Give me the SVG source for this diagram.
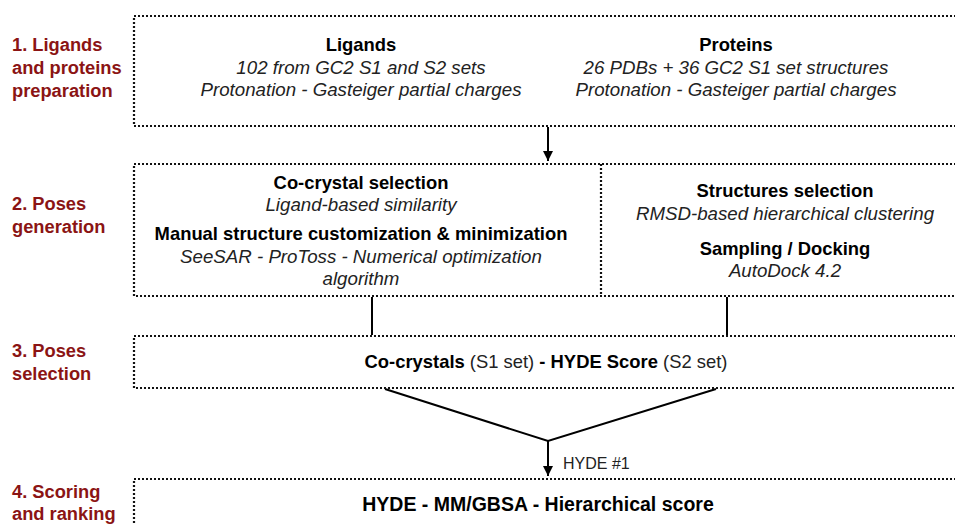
<svg xmlns="http://www.w3.org/2000/svg" width="955" height="525" viewBox="0 0 955 525">
  <defs>
    <marker id="arrow" viewBox="0 0 10 10" refX="10" refY="5" markerWidth="10" markerHeight="10" markerUnits="userSpaceOnUse" orient="auto">
      <path d="M0,0 L10,5 L0,10 Z" fill="#000"/>
    </marker>
    <style>
      .box { fill: none; stroke: #111; stroke-width: 2.2; stroke-dasharray: 2 2; }
      .line { fill: none; stroke: #000; stroke-width: 2; }
      .stage { font-family: "Liberation Sans", Arial, sans-serif; font-weight: bold; font-size: 18.3px; fill: #8b1414; }
      .head { font-family: "Liberation Sans", Arial, sans-serif; font-weight: bold; font-size: 18.4px; fill: #000; text-anchor: middle; }
      .sub { font-family: "Liberation Sans", Arial, sans-serif; font-style: italic; font-size: 18.7px; fill: #222; text-anchor: middle; }
      .plain { font-family: "Liberation Sans", Arial, sans-serif; font-size: 16px; fill: #222; }
    </style>
  </defs>
  <rect width="955" height="525" fill="#fff"/>

  <!-- stage labels -->
  <g id="stage-labels">
    <text class="stage" x="12" y="51">1. Ligands</text>
    <text class="stage" x="12" y="74">and proteins</text>
    <text class="stage" x="12" y="97">preparation</text>
    <text class="stage" x="12" y="210">2. Poses</text>
    <text class="stage" x="12" y="233">generation</text>
    <text class="stage" x="12" y="357">3. Poses</text>
    <text class="stage" x="12" y="380">selection</text>
    <text class="stage" x="12" y="498">4. Scoring</text>
    <text class="stage" x="12" y="520">and ranking</text>
  </g>

  <!-- connectors -->
  <g id="connectors">
    <line class="line" x1="548" y1="127" x2="548" y2="161" marker-end="url(#arrow)"/>
    <line class="line" x1="372" y1="297" x2="372" y2="335"/>
    <line class="line" x1="727" y1="297" x2="727" y2="335"/>
    <polyline class="line" points="385,389 548,441 716,389"/>
    <line class="line" x1="548" y1="441" x2="548" y2="476" marker-end="url(#arrow)"/>
    <text class="plain" x="563" y="469">HYDE #1</text>
  </g>

  <!-- step 1 -->
  <g id="preparation">
    <rect class="box" x="134" y="16" width="830" height="110"/>
    <text class="head" x="361" y="51">Ligands</text>
    <text class="sub" x="361" y="74">102 from GC2 S1 and S2 sets</text>
    <text class="sub" x="361" y="96">Protonation - Gasteiger partial charges</text>
    <text class="head" x="736" y="51">Proteins</text>
    <text class="sub" x="736" y="74">26 PDBs + 36 GC2 S1 set structures</text>
    <text class="sub" x="736" y="96">Protonation - Gasteiger partial charges</text>
  </g>

  <!-- step 2 -->
  <g id="generation">
    <rect class="box" x="134" y="164" width="830" height="132"/>
    <line class="box" x1="601" y1="164" x2="601" y2="296"/>
    <text class="head" x="361" y="189">Co-crystal selection</text>
    <text class="sub" x="361" y="211">Ligand-based similarity</text>
    <text class="head" x="361" y="240">Manual structure customization &amp; minimization</text>
    <text class="sub" x="361" y="263">SeeSAR - ProToss - Numerical optimization</text>
    <text class="sub" x="361" y="285">algorithm</text>
    <text class="head" x="785" y="197">Structures selection</text>
    <text class="sub" x="785" y="220">RMSD-based hierarchical clustering</text>
    <text class="head" x="785" y="255">Sampling / Docking</text>
    <text class="sub" x="785" y="277">AutoDock 4.2</text>
  </g>

  <!-- step 3 -->
  <g id="selection">
    <rect class="box" x="134" y="336" width="830" height="52"/>
    <text x="546" y="368" text-anchor="middle" font-family="Liberation Sans, Arial, sans-serif" font-size="18.4px" fill="#000"><tspan font-weight="bold">Co-crystals</tspan><tspan fill="#222"> (S1 set) </tspan><tspan font-weight="bold">- HYDE Score</tspan><tspan fill="#222"> (S2 set)</tspan></text>
  </g>

  <!-- step 4 -->
  <g id="scoring">
    <rect class="box" x="134" y="479" width="830" height="60"/>
    <text class="head" x="538" y="511" style="font-size:19.5px">HYDE - MM/GBSA - Hierarchical score</text>
  </g>
</svg>
